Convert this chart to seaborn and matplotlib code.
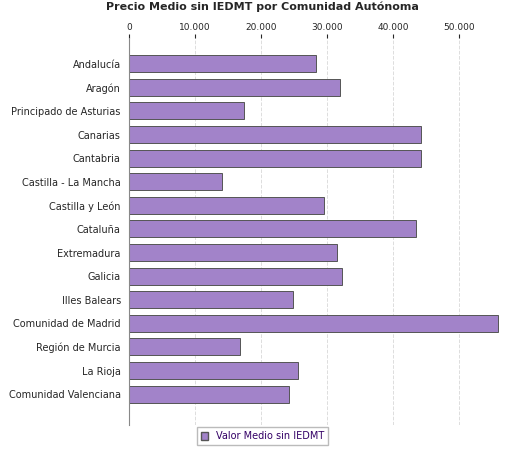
import matplotlib
matplotlib.use("Agg")
import matplotlib.pyplot as plt
import seaborn as sns
import pandas as pd
from matplotlib.ticker import FuncFormatter
from matplotlib.patches import Patch

regions = ["Andalucía", "Aragón", "Principado de Asturias", "Canarias", "Cantabria",
           "Castilla - La Mancha", "Castilla y León", "Cataluña", "Extremadura", "Galicia",
           "Illes Balears", "Comunidad de Madrid", "Región de Murcia", "La Rioja",
           "Comunidad Valenciana"]
values = [28300, 32000, 17400, 44200, 44200, 14100, 29500, 43500, 31500, 32300,
          24800, 55900, 16800, 25600, 24200]

sns.set_style("white")
plt.rcParams['font.family'] = ['DejaVu Sans']
df = pd.DataFrame({"region": regions, "value": values})

fig = plt.figure(figsize=(5.25, 4.5), dpi=100)
ax = fig.add_axes([0.246, 0.056, 0.725, 0.86])
color = "#a283c9"
sns.barplot(data=df, x="value", y="region", color=color, edgecolor="#555555",
            linewidth=0.7, width=0.72, saturation=1, ax=ax)
ax.set_xlim(0, 57700)
ax.set_ylim(15.3, -1.1)
ax.xaxis.tick_top()
ax.set_xticks([0, 10000, 20000, 30000, 40000, 50000])
ax.xaxis.set_major_formatter(FuncFormatter(lambda v, p: f"{int(v):,}".replace(",", ".")))
ax.tick_params(axis="x", labelsize=6.5, length=3, pad=1)
ax.tick_params(axis="y", labelsize=7, length=0, pad=6)
ax.grid(axis="x", linestyle="--", color="#dddddd", linewidth=0.7)
ax.set_axisbelow(True)
for s in ["right", "bottom", "top"]:
    ax.spines[s].set_visible(False)
ax.spines["left"].set_color("#888888")
ax.set_xlabel("")
ax.set_ylabel("")
fig.suptitle("Precio Medio sin IEDMT por Comunidad Autónoma", fontsize=8,
             fontweight="bold", y=0.997)
fig.legend(handles=[Patch(facecolor=color, edgecolor="#555555", label="Valor Medio sin IEDMT")],
           loc="lower center", bbox_to_anchor=(0.5, 0.0), fontsize=7, frameon=True,
           edgecolor="#aaaaaa", fancybox=False, handlelength=0.8, handleheight=0.8,
           labelcolor="#330066")
fig.savefig("out.png", dpi=100)
